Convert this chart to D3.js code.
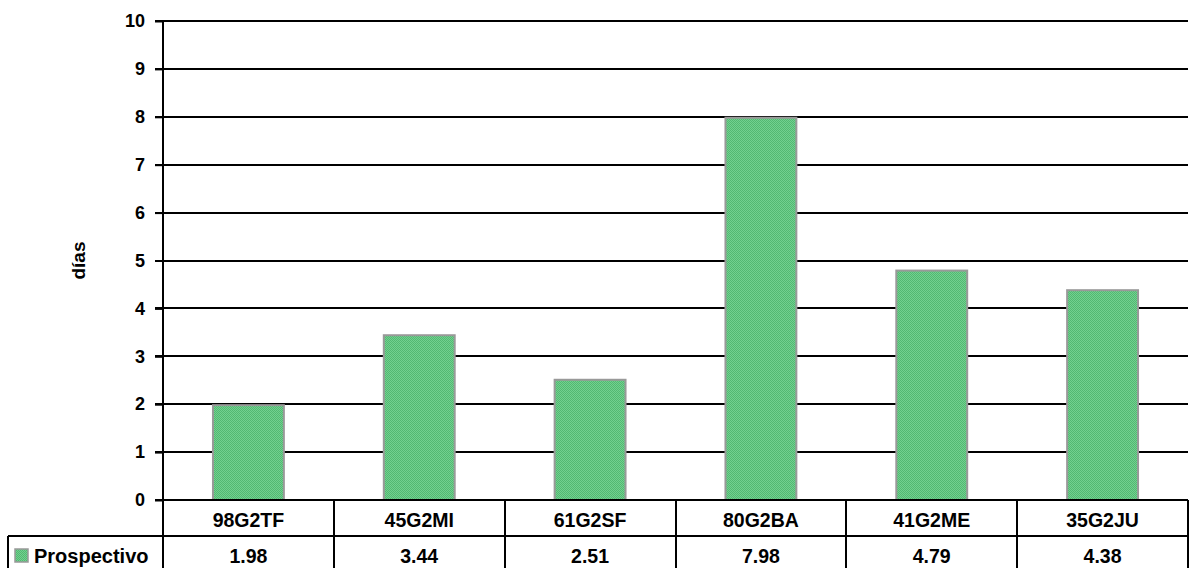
<!DOCTYPE html>
<html>
  <head>
    <meta charset="utf-8">
    <title>días por muestra</title>
    <script src="https://cdn.jsdelivr.net/npm/d3@7"></script>
    <style>
      body {
        margin: 0px;
        overflow: hidden;
        background: white;
      }

      text {
        font-family: "Liberation Sans", Arial, sans-serif;
        font-weight: bold;
        fill: black;
      }

      .rule {
        stroke: black;
        stroke-width: 2px;
        shape-rendering: crispEdges;
      }

      .bar {
        fill: url(#dots);
        stroke: #999;
        stroke-width: 2px;
      }
    </style>
  </head>
  <body>
    <svg id="container" width="1189" height="568"></svg>

    <script type="text/javascript">
      var categories = ['98G2TF', '45G2MI', '61G2SF', '80G2BA', '41G2ME', '35G2JU'],
        values = [1.98, 3.44, 2.51, 7.98, 4.79, 4.38],
        valueLabels = ['1.98', '3.44', '2.51', '7.98', '4.79', '4.38'],
        yTicks = [0, 1, 2, 3, 4, 5, 6, 7, 8, 9, 10],
        seriesName = 'Prospectivo',
        yTitle = 'días';

      // note: "top" is window.top, so plot edges get their own names
      var plotLeft = 163, plotRight = 1188, plotTop = 21, plotBottom = 500,
        row1 = 536, row2 = 572, legendLeft = 8;

      var svg = d3.select('#container');

      // dithered green fill like the old office pattern
      var pat = svg.append('defs').append('pattern')
        .attr('id', 'dots')
        .attr('width', 2).attr('height', 2)
        .attr('patternUnits', 'userSpaceOnUse');
      pat.append('rect').attr('width', 2).attr('height', 2).attr('fill', '#72d18f');
      pat.append('rect').attr('width', 1).attr('height', 1).attr('fill', '#52b872');
      pat.append('rect').attr('x', 1).attr('y', 1).attr('width', 1).attr('height', 1).attr('fill', '#52b872');

      var x = d3.scaleBand().domain(categories).range([plotLeft, plotRight]),
        y = d3.scaleLinear().domain([0, 10]).range([plotBottom, plotTop]);

      // gridlines
      svg.append('g').selectAll('line')
        .data(yTicks.filter(function (d) { return d > 0; }))
        .join('line')
        .attr('class', 'rule')
        .attr('x1', plotLeft - 8).attr('x2', plotRight)
        .attr('y1', function (d) { return y(d); })
        .attr('y2', function (d) { return y(d); });

      // y axis
      var yAxis = svg.append('g')
        .attr('transform', 'translate(' + plotLeft + ',0)')
        .call(d3.axisLeft(y).tickValues(yTicks).tickSize(8).tickPadding(10));
      yAxis.select('.domain').remove();
      yAxis.selectAll('line').attr('stroke', 'black').attr('stroke-width', 2);
      yAxis.selectAll('text')
        .style('font-size', '18px')
        .style('font-family', '"Liberation Sans", Arial, sans-serif')
        .style('font-weight', 'bold');

      svg.append('text')
        .attr('transform', 'translate(85,' + ((plotTop + plotBottom) / 2) + ') rotate(-90)')
        .attr('text-anchor', 'middle')
        .style('font-size', '19px')
        .text(yTitle);

      // bars
      var barW = x.bandwidth() * 0.415;
      svg.append('g').selectAll('rect')
        .data(values)
        .join('rect')
        .attr('class', 'bar')
        .attr('x', function (d, i) { return x(categories[i]) + (x.bandwidth() - barW) / 2; })
        .attr('y', function (d) { return y(d); })
        .attr('width', barW)
        .attr('height', function (d) { return plotBottom - y(d); });

      // data table
      svg.append('line').attr('class', 'rule')
        .attr('x1', plotLeft - 8).attr('x2', plotRight).attr('y1', plotBottom).attr('y2', plotBottom);
      svg.append('line').attr('class', 'rule')
        .attr('x1', legendLeft).attr('x2', plotRight).attr('y1', row1).attr('y2', row1);
      svg.append('line').attr('class', 'rule')
        .attr('x1', plotLeft).attr('x2', plotLeft).attr('y1', plotTop).attr('y2', row2);
      svg.append('line').attr('class', 'rule')
        .attr('x1', legendLeft).attr('x2', legendLeft).attr('y1', row1).attr('y2', row2);

      svg.append('g').selectAll('line')
        .data(categories)
        .join('line')
        .attr('class', 'rule')
        .attr('x1', function (d) { return x(d) + x.bandwidth(); })
        .attr('x2', function (d) { return x(d) + x.bandwidth(); })
        .attr('y1', plotBottom).attr('y2', row2);

      svg.append('g').selectAll('text')
        .data(categories)
        .join('text')
        .attr('x', function (d) { return x(d) + x.bandwidth() / 2; })
        .attr('y', 527)
        .attr('text-anchor', 'middle')
        .style('font-size', '19.5px')
        .text(function (d) { return d; });

      svg.append('g').selectAll('text')
        .data(valueLabels)
        .join('text')
        .attr('x', function (d, i) { return x(categories[i]) + x.bandwidth() / 2; })
        .attr('y', 563)
        .attr('text-anchor', 'middle')
        .style('font-size', '19.5px')
        .text(function (d) { return d; });

      // legend key
      svg.append('rect')
        .attr('x', 15).attr('y', 549)
        .attr('width', 13).attr('height', 13)
        .attr('fill', 'url(#dots)')
        .attr('stroke', '#999').attr('stroke-width', 1.5);
      svg.append('text')
        .attr('x', 34).attr('y', 563)
        .style('font-size', '20px')
        .text(seriesName);
    </script>
  </body>
</html>
